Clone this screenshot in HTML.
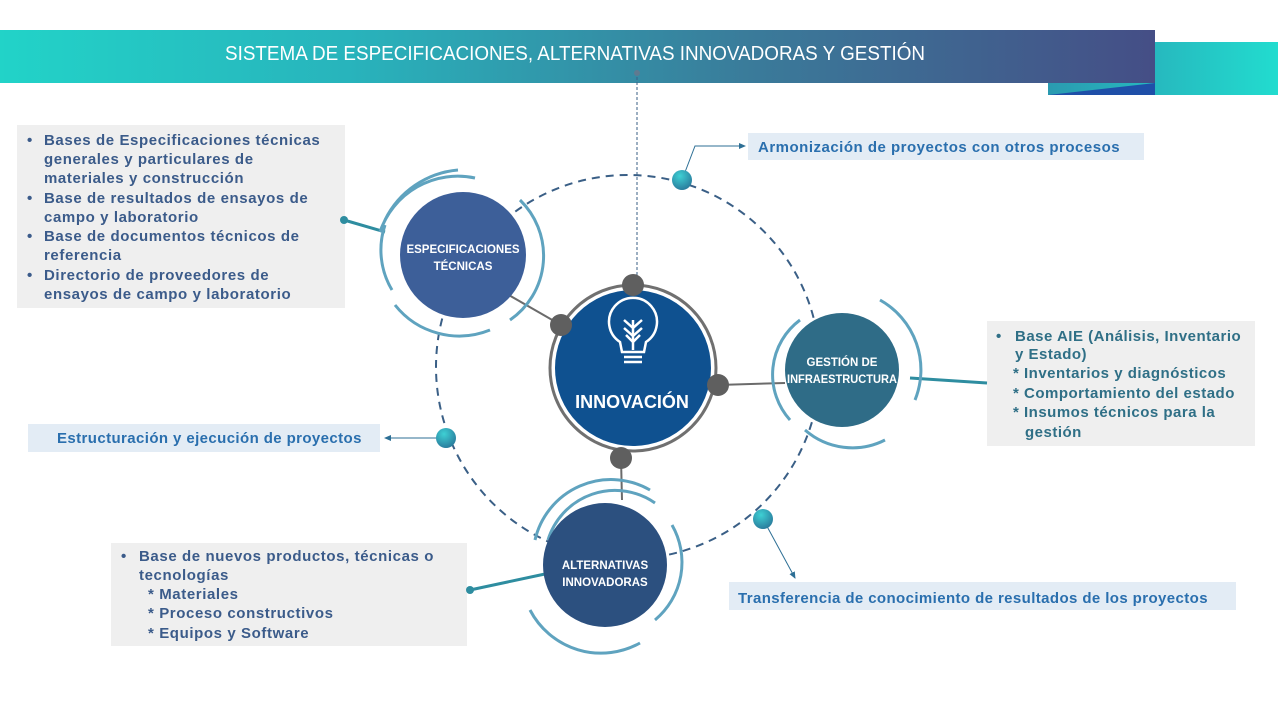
<!DOCTYPE html>
<html><head><meta charset="utf-8"><style>
html,body{margin:0;padding:0;background:#fff;}
svg{display:block;font-family:"Liberation Sans",sans-serif;}
</style></head><body>
<svg width="1280" height="720" viewBox="0 0 1280 720" xmlns="http://www.w3.org/2000/svg">
<defs>
<linearGradient id="hg" x1="0" x2="1" y1="0" y2="0">
<stop offset="0" stop-color="#22d3c8"/><stop offset="0.3" stop-color="#28b4bc"/><stop offset="0.65" stop-color="#3a7b9a"/><stop offset="1" stop-color="#454e86"/></linearGradient>
<linearGradient id="rg" x1="0" x2="1"><stop offset="0" stop-color="#2a9ab0"/><stop offset="1" stop-color="#22dccf"/></linearGradient>
<radialGradient id="tg" cx="0.4" cy="0.3" r="0.7"><stop offset="0" stop-color="#3ed0d4"/><stop offset="1" stop-color="#2a7e9e"/></radialGradient>
<marker id="ar" markerWidth="8" markerHeight="8" refX="6" refY="4" orient="auto"><path d="M0,1 L7,4 L0,7 z" fill="#2d6f95"/></marker>
</defs>
<!-- header -->
<rect x="1048" y="42" width="230" height="53" fill="url(#rg)"/>
<polygon points="1048,95 1155,83 1155,95" fill="#1f4fa8"/>
<rect x="0" y="30" width="1155" height="53" fill="url(#hg)"/>
<text x="575" y="60" fill="#fff" font-size="20" text-anchor="middle" textLength="700" lengthAdjust="spacingAndGlyphs">SISTEMA DE ESPECIFICACIONES, ALTERNATIVAS INNOVADORAS Y GESTIÓN</text>
<circle cx="637" cy="73" r="3" fill="#5f7a90"/>
<line x1="637" y1="77" x2="637" y2="285" stroke="#3a5f86" stroke-width="1" stroke-dasharray="3,2"/>
<!-- big dashed circle -->
<circle cx="628" cy="367" r="192" fill="none" stroke="#3a5f86" stroke-width="2" stroke-dasharray="8,6"/>
<!-- boxes -->
<rect x="17" y="125" width="328" height="183" fill="#efefef"/>
<g fill="#3b5b8a" font-size="15" font-weight="bold" letter-spacing="0.6">
<text x="27" y="145">•</text><text x="44" y="145">Bases de Especificaciones técnicas</text>
<text x="44" y="164">generales y particulares de</text>
<text x="44" y="183">materiales y construcción</text>
<text x="27" y="203">•</text><text x="44" y="203">Base de resultados de ensayos de</text>
<text x="44" y="222">campo y laboratorio</text>
<text x="27" y="241">•</text><text x="44" y="241">Base de documentos técnicos de</text>
<text x="44" y="260">referencia</text>
<text x="27" y="280">•</text><text x="44" y="280">Directorio de proveedores de</text>
<text x="44" y="299">ensayos de campo y laboratorio</text>
</g>
<rect x="748" y="133" width="396" height="27" fill="#e3ecf5"/>
<text x="758" y="152" fill="#2a6fae" font-size="15" font-weight="bold" letter-spacing="0.5">Armonización de proyectos con otros procesos</text>
<rect x="987" y="321" width="268" height="125" fill="#efefef"/>
<g fill="#2f6f86" font-size="15" font-weight="bold" letter-spacing="0.5">
<text x="996" y="341">•</text><text x="1015" y="341">Base AIE (Análisis, Inventario</text>
<text x="1015" y="359">y Estado)</text>
<text x="1013" y="378">* Inventarios y diagnósticos</text>
<text x="1013" y="398">* Comportamiento del estado</text>
<text x="1013" y="417">* Insumos técnicos para la</text>
<text x="1025" y="437">gestión</text>
</g>
<rect x="28" y="424" width="352" height="28" fill="#e3ecf5"/>
<text x="57" y="443" fill="#2a6fae" font-size="15" font-weight="bold" letter-spacing="0.4">Estructuración y ejecución de proyectos</text>
<rect x="111" y="543" width="356" height="103" fill="#efefef"/>
<g fill="#3b5b8a" font-size="15" font-weight="bold" letter-spacing="0.6">
<text x="121" y="561">•</text><text x="139" y="561">Base de nuevos productos, técnicas o</text>
<text x="139" y="580">tecnologías</text>
<text x="148" y="599">* Materiales</text>
<text x="148" y="618">* Proceso constructivos</text>
<text x="148" y="638">* Equipos y Software</text>
</g>
<rect x="729" y="582" width="507" height="28" fill="#e3ecf5"/>
<text x="738" y="603" fill="#2a6fae" font-size="15" font-weight="bold" letter-spacing="0.4">Transferencia de conocimiento de resultados de los proyectos</text>
<!-- arrows -->
<polyline points="682,180 695,146 745,146" fill="none" stroke="#2d6f95" stroke-width="1" marker-end="url(#ar)"/>
<line x1="446" y1="438" x2="385" y2="438" stroke="#2d6f95" stroke-width="1" marker-end="url(#ar)"/>
<line x1="763" y1="519" x2="795" y2="578" stroke="#2d6f95" stroke-width="1" marker-end="url(#ar)"/>
<!-- connectors from boxes -->
<line x1="344" y1="220" x2="385" y2="232" stroke="#2e8da0" stroke-width="3"/><circle cx="344" cy="220" r="4" fill="#2e8da0"/>
<line x1="910" y1="378" x2="987" y2="383" stroke="#2e8da0" stroke-width="3"/>
<line x1="470" y1="590" x2="545" y2="574" stroke="#2e8da0" stroke-width="3"/><circle cx="470" cy="590" r="4" fill="#2e8da0"/>
<!-- gray connectors -->
<line x1="500" y1="290" x2="561" y2="325" stroke="#6b6b6b" stroke-width="2"/>
<line x1="718" y1="385" x2="785" y2="383" stroke="#6b6b6b" stroke-width="2"/>
<line x1="621" y1="458" x2="622" y2="500" stroke="#6b6b6b" stroke-width="2"/>
<!-- arcs around nodes -->
<g fill="none" stroke="#5fa3bf" stroke-width="3">
<path d="M380,232 A82,82 0 0 1 475,178"/>
<path d="M385,220 A90,90 0 0 1 458,170"/>
<path d="M392,290 A78,78 0 0 1 385,225"/>
<path d="M520,200 A78,78 0 0 1 510,320"/>
<path d="M490,330 A82,82 0 0 1 395,305"/>
<path d="M800,320 A68,68 0 0 0 790,420"/>
<path d="M880,300 A80,80 0 0 1 915,400"/>
<path d="M805,430 A72,72 0 0 0 885,440"/>
<path d="M535,540 A78,78 0 0 1 650,490"/>
<path d="M548,540 A70,70 0 0 1 655,503"/>
<path d="M672,525 A75,75 0 0 1 655,620"/>
<path d="M530,610 A80,80 0 0 0 640,643"/>
</g>
<!-- nodes -->
<circle cx="463" cy="255" r="63" fill="#3d5f99"/>
<text x="463" y="253" fill="#fff" font-size="11.5" font-weight="bold" text-anchor="middle">ESPECIFICACIONES</text>
<text x="463" y="270" fill="#fff" font-size="11.5" font-weight="bold" text-anchor="middle">TÉCNICAS</text>
<circle cx="842" cy="370" r="57" fill="#2f6c87"/>
<text x="842" y="366" fill="#fff" font-size="11.5" font-weight="bold" text-anchor="middle">GESTIÓN DE</text>
<text x="842" y="383" fill="#fff" font-size="11.5" font-weight="bold" text-anchor="middle" textLength="110" lengthAdjust="spacingAndGlyphs">INFRAESTRUCTURA</text>
<circle cx="605" cy="565" r="62" fill="#2c507f"/>
<text x="605" y="569" fill="#fff" font-size="11.5" font-weight="bold" text-anchor="middle">ALTERNATIVAS</text>
<text x="605" y="586" fill="#fff" font-size="11.5" font-weight="bold" text-anchor="middle">INNOVADORAS</text>
<!-- center -->
<circle cx="633" cy="368" r="83" fill="#fff" stroke="#707070" stroke-width="3"/>
<circle cx="633" cy="368" r="78" fill="#0f5190"/>
<g fill="none" stroke="#fff" stroke-width="2.5">
<path d="M620,342 A24,24 0 1 1 646,342 L644,352 L622,352 Z"/>
<line x1="624" y1="357" x2="642" y2="357"/><line x1="624" y1="362" x2="642" y2="362"/>
<line x1="633" y1="320" x2="633" y2="350"/>
<path d="M624,320 L633,328 L642,320 M624,328 L633,336 L642,328 M626,335 L633,342 L640,335"/>
</g>
<text x="632" y="408" fill="#fff" font-size="18" font-weight="bold" text-anchor="middle">INNOVACIÓN</text>
<!-- gray dots -->
<g fill="#5f5f5f"><circle cx="633" cy="285" r="11"/><circle cx="561" cy="325" r="11"/><circle cx="718" cy="385" r="11"/><circle cx="621" cy="458" r="11"/></g>
<!-- teal dots -->
<g fill="url(#tg)"><circle cx="682" cy="180" r="10"/><circle cx="446" cy="438" r="10"/><circle cx="763" cy="519" r="10"/></g>
</svg>
</body></html>
